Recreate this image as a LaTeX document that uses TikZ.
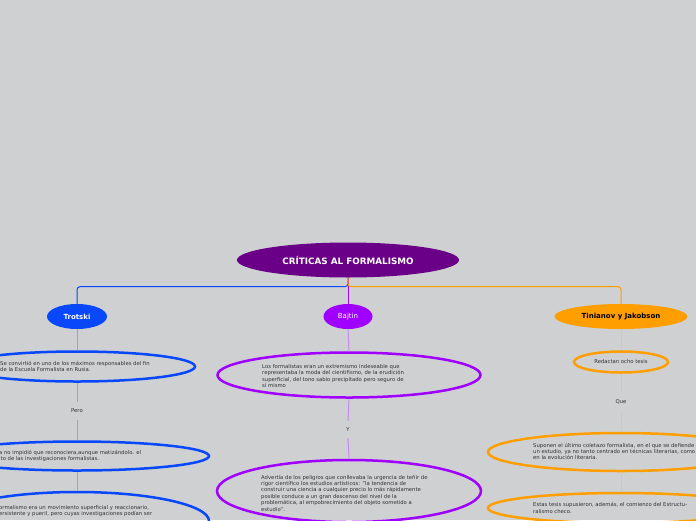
\documentclass[tikz,border=0pt]{standalone}
\usepackage{fontspec}
\setmainfont{DejaVu Sans}
\usetikzlibrary{shapes.geometric}
\definecolor{bgray}{RGB}{207,208,210}
\definecolor{rootpurple}{RGB}{106,0,136}
\definecolor{tblue}{RGB}{8,72,250}
\definecolor{bviolet}{RGB}{160,0,255}
\definecolor{torange}{RGB}{255,158,0}
\definecolor{lblue}{RGB}{140,165,235}
\definecolor{lviolet}{RGB}{195,140,240}
\definecolor{lorange}{RGB}{235,195,140}
\definecolor{txt}{RGB}{50,50,50}
\begin{document}
\begin{tikzpicture}[x=1pt, y=-1pt,
    topic/.style={ellipse, inner sep=0pt, minimum height=25pt,
                  font=\fontsize{7}{8}\selectfont},
    idea/.style={ellipse, draw, line width=2.5pt, inner sep=0pt},
    txtbox/.style={anchor=west, inner sep=0pt, align=left, text=txt,
                   font=\fontsize{5.3}{6.4}\selectfont},
    joiner/.style={inner sep=0pt, minimum height=18pt, text=txt,
                   font=\fontsize{5.3}{6.4}\selectfont},
    link/.style={line width=1pt}
  ]
    \fill[bgray] (0,0) rectangle (696,520);
    \useasboundingbox (0,0) rectangle (696,520);

    \node[ellipse, fill=rootpurple, minimum width=222pt, minimum height=35pt,
      text=white, font=\fontsize{8.8}{10}\selectfont\bfseries] (root) at (348,260)
      {CRÍTICAS AL FORMALISMO};

    \node[topic, fill=tblue, minimum width=60pt, text=white,
      font=\fontsize{7}{8}\selectfont\bfseries] (trotski) at (77,316.5) {Trotski};
    \node[topic, fill=bviolet, minimum width=49pt, text=white] (bajtin) at (348,316.5) {Bajtin};
    \node[topic, fill=torange, minimum width=133pt, text=black,
      font=\fontsize{7}{8}\selectfont\bfseries] (tinianov) at (621,316.5) {Tinianov y Jakobson};

    \draw[link, tblue, rounded corners=3pt] (root.south) -- ++(0,9) -| (trotski.north);
    \draw[link, bviolet] (root.south) -- (bajtin.north);
    \draw[link, torange, rounded corners=3pt] (root.south) -- ++(0,9) -| (tinianov.north);

    % Trotski
    \node[idea, draw=tblue, minimum width=236pt, minimum height=30pt] (tro1) at (77,366.5) {};
    \node[txtbox] (tro1txt) at (0,366.5)
      {Se convirtió en uno de los máximos responsables del fin\\de la Escuela Formalista en Rusia.};
    \node[joiner] (pero) at (77,411) {Pero};
    \node[idea, draw=tblue, minimum width=264pt, minimum height=29pt] (tro2) at (77,456) {};
    \node[txtbox] (tro2txt) at (-1,456)
      {a no impidió que reconociera,aunque matizándolo. el\\ito de las investigaciones formalistas.};
    \node[idea, draw=tblue, minimum width=264pt, minimum height=58pt] (tro3) at (77,521) {};
    \node[txtbox] (tro3txt) at (-1,511)
      {ormalismo era un movimiento superficial y reaccionario,\\ersistente y pueril, pero cuyas investigaciones podían ser};
    \draw[link, lblue] (trotski.south) -- (tro1.north) (tro1.south) -- (pero.north)
      (pero.south) -- (tro2.north) (tro2.south) -- (tro3.north);

    % Bajtin
    \node[idea, draw=bviolet, minimum width=263pt, minimum height=45pt] (baj1) at (349,375) {};
    \node[txtbox] (baj1txt) at (262,376)
      {Los formalistas eran un extremismo indeseable que\\representaba la moda del cientifismo, de la erudición\\superficial, del tono sabio precipitado pero seguro de\\sí mismo};
    \node[joiner, minimum height=17pt] (ylab) at (348,429.5) {Y};
    \node[idea, draw=bviolet, minimum width=264pt, minimum height=62pt] (baj2) at (349,491) {};
    \node[txtbox] (baj2txt) at (261,493)
      {Advertía de los peligros que conllevaba la urgencia de teñir de\\rigor científico los estudios artísticos: "la tendencia de\\construir una ciencia a cualquier precio lo más rápidamente\\posible conduce a un gran descenso del nivel de la\\problemática, al empobrecimiento del objeto sometido a\\estudio".};
    \draw[link, lviolet] (bajtin.south) -- (baj1.north) (baj1.south) -- (ylab.north)
      (ylab.south) -- (baj2.north);

    % Tinianov y Jakobson
    \node[idea, draw=torange, minimum width=94pt, minimum height=21pt, text=txt,
      font=\fontsize{5.3}{6.4}\selectfont] (tin1) at (621,362) {Redactan ocho tesis};
    \node[joiner, minimum height=20pt] (que) at (621,402) {Que};
    \node[idea, draw=torange, minimum width=266pt, minimum height=38pt] (tin2) at (621,452) {};
    \node[txtbox] (tin2txt) at (533,451.5)
      {Suponen el último coletazo formalista, en el que se defiende\\un estudio, ya no tanto centrado en técnicas literarias, como\\en la evolución literaria.};
    \node[idea, draw=torange, minimum width=266pt, minimum height=30pt] (tin3) at (621,508) {};
    \node[txtbox] (tin3txt) at (533,508)
      {Estas tesis supusieron, además, el comienzo del Estructu-\\ralismo checo.};
    \draw[link, lorange] (tinianov.south) -- (tin1.north) (tin1.south) -- (que.north)
      (que.south) -- (tin2.north) (tin2.south) -- (tin3.north);
  \end{tikzpicture}
\end{document}
